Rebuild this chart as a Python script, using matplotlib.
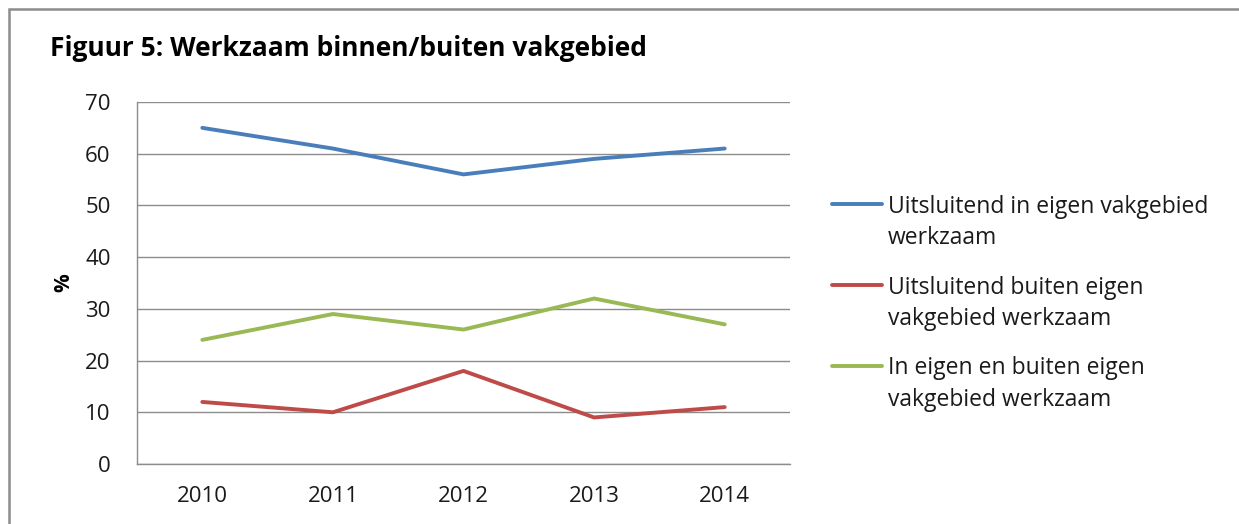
import matplotlib
matplotlib.use('Agg')
import matplotlib.pyplot as plt
from matplotlib.patches import Rectangle
from matplotlib.lines import Line2D

years = ['2010', '2011', '2012', '2013', '2014']
eigen = [65, 61, 56, 59, 61]
buiten = [12, 10, 18, 9, 11]
beide = [24, 29, 26, 32, 27]

labels = ['Uitsluitend in eigen vakgebied\nwerkzaam',
          'Uitsluitend buiten eigen\nvakgebied werkzaam',
          'In eigen en buiten eigen\nvakgebied werkzaam']
colors = ['#4A7EBB', '#BE4B48', '#98B954']
series = [eigen, buiten, beide]

plt.rcParams['font.family'] = ['Open Sans', 'DejaVu Sans']


def main():
    fig = plt.figure(figsize=(12.39, 5.24), dpi=100)
    # outer frame (Excel chart border)
    fig.add_artist(Rectangle((9 / 1239, -0.1), 1.2, 1.1 - 9 / 524, transform=fig.transFigure,
                             fill=False, edgecolor='#8c8c8c', linewidth=1.8))

    ax = fig.add_axes([137 / 1239, 1 - 464 / 524, 653 / 1239, 362 / 524])
    x = list(range(len(years)))
    for vals, c in zip(series, colors):
        ax.plot(x, vals, color=c, linewidth=2.8, solid_capstyle='round', zorder=3)

    ax.set_xlim(-0.5, len(years) - 0.5)
    ax.set_ylim(0, 70)
    ax.set_yticks(range(0, 71, 10))
    ax.set_xticks(x)
    ax.set_xticklabels(years)
    ax.grid(axis='y', color='#8c8c8c', linewidth=1.0)
    ax.set_axisbelow(True)
    for s in ['top', 'right']:
        ax.spines[s].set_visible(False)
    for s in ['left', 'bottom']:
        ax.spines[s].set_color('#8c8c8c')
        ax.spines[s].set_linewidth(1.0)
    ax.tick_params(length=0, labelsize=16, colors='#1a1a1a')
    ax.tick_params(axis='y', pad=19)
    ax.tick_params(axis='x', pad=16)
    ax.set_ylabel('%', fontsize=15, fontweight='bold', labelpad=8)

    fig.text(50 / 1239, 1 - 49 / 524, 'Figuur 5: Werkzaam binnen/buiten vakgebied',
             fontsize=19, fontweight='bold', va='center', ha='left')

    # legend drawn by hand so the line sits at the first text line
    ys = [0.718, 0.494, 0.271]
    for lab, c, yy in zip(labels, colors, ys):
        ax.add_line(Line2D([1.064, 1.141], [yy, yy], transform=ax.transAxes, color=c,
                           linewidth=2.8, solid_capstyle='round', clip_on=False))
        ax.text(1.150, yy + 0.026, lab, transform=ax.transAxes, fontsize=16.5,
                va='top', ha='left', linespacing=1.42, color='#1a1a1a')

    fig.savefig('out.png', dpi=100)


if __name__ == '__main__':
    main()
